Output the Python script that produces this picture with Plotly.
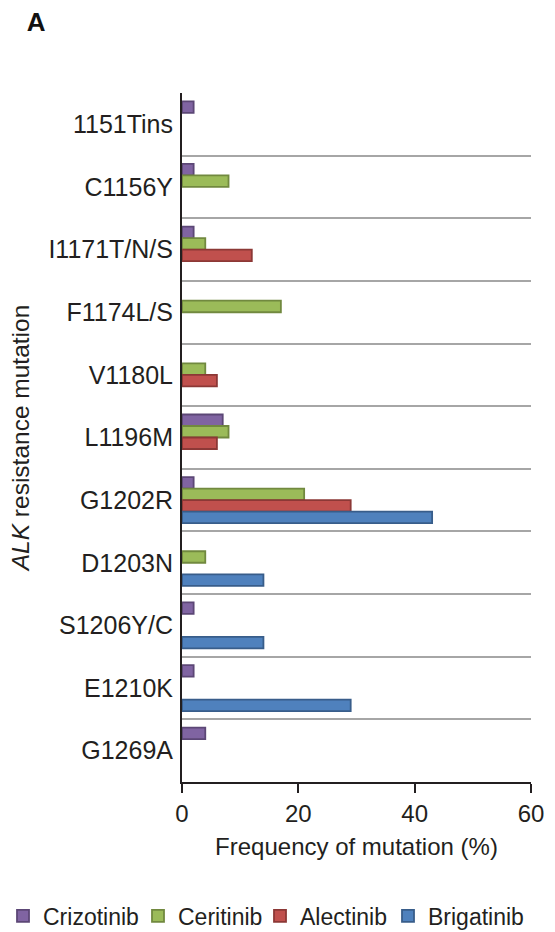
import plotly.graph_objects as go

# ALK resistance mutations, listed top to bottom
mutations = ["1151Tins", "C1156Y", "I1171T/N/S", "F1174L/S", "V1180L", "L1196M",
             "G1202R", "D1203N", "S1206Y/C", "E1210K", "G1269A"]

# Frequency of each mutation (%) per ALK inhibitor; None = not observed
crizotinib = [2, 2, 2, None, None, 7, 2, None, 2, 2, 4]
ceritinib = [None, 8, 4, 17, 4, 8, 21, 4, None, None, None]
alectinib = [None, None, 12, None, 6, 6, 29, None, None, None, None]
brigatinib = [None, None, None, None, None, None, 43, 14, 14, 29, None]

drugs = ["Crizotinib", "Ceritinib", "Alectinib", "Brigatinib"]
values = [crizotinib, ceritinib, alectinib, brigatinib]
fills = ["#8064A2", "#9BBB59", "#C0504D", "#4F81BD"]
edges = ["#5C4776", "#71893F", "#8C3836", "#385D8A"]

# one single-entry legend per drug so the key row spans the full page width
legend_ids = ["legend", "legend2", "legend3", "legend4"]
legend_left_px = [3, 138, 260, 388]

W, H = 555, 932
FONT = "Liberation Sans, Arial, Helvetica, sans-serif"
INK = "#231F20"

fig = go.Figure()
for name, vals, fc, ec, lg in zip(drugs, values, fills, edges, legend_ids):
    fig.add_trace(go.Bar(
        y=mutations, x=vals, name=name, orientation="h", legend=lg,
        showlegend=True,
        marker=dict(color=fc, line=dict(color=ec, width=1.8)),
    ))

legend_style = dict(orientation="h", xref="container", yref="container",
                    xanchor="left", y=1 - 916 / H, yanchor="middle",
                    font=dict(family=FONT, size=23, color=INK),
                    itemclick=False, bgcolor="rgba(0,0,0,0)")
legends = {lg: dict(legend_style, x=px / W) for lg, px in zip(legend_ids, legend_left_px)}

fig.update_layout(
    width=W, height=H, showlegend=True,
    margin=dict(l=182, r=24, t=93, b=150, autoexpand=False),
    paper_bgcolor="white", plot_bgcolor="white",
    font=dict(family=FONT, size=24, color=INK),
    barmode="group", bargap=0.265, bargroupgap=0,
    title=dict(text="<b>A</b>", x=0.048, xanchor="left", xref="container",
               y=1 - 22 / H, yanchor="middle", yref="container",
               font=dict(family=FONT, size=26, color="#111111")),
    **legends,
)

fig.update_xaxes(
    range=[0, 60], tickvals=[0, 20, 40, 60], showgrid=False, zeroline=False,
    showline=True, linecolor="#231F20", linewidth=2,
    ticks="outside", ticklen=9, tickwidth=2, tickcolor="#231F20",
    tickfont=dict(size=24, color=INK),
    title=dict(text="Frequency of mutation (%)", standoff=12,
               font=dict(size=24, color=INK)),
)

fig.update_yaxes(
    type="category", categoryorder="array", categoryarray=mutations,
    autorange="reversed", tickson="boundaries", ticks="",
    showgrid=True, gridcolor="#A6A6A6", gridwidth=2,
    showline=True, linecolor="#231F20", linewidth=2,
    ticklabelstandoff=2,
    tickfont=dict(size=25, color=INK),
    title=dict(text="<i>ALK</i> resistance mutation", standoff=12,
               font=dict(size=24.5, color=INK)),
)

fig.write_html("out.html")
